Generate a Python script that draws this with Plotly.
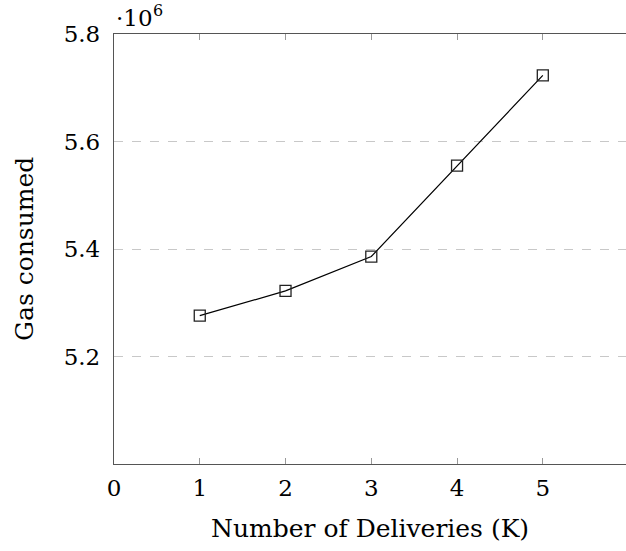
import plotly.graph_objects as go

deliveries = [1, 2, 3, 4, 5]
gas_consumed = [5.276e6, 5.322e6, 5.386e6, 5.555e6, 5.723e6]

x_ticks = [0, 1, 2, 3, 4, 5]
y_ticks = [5.2e6, 5.4e6, 5.6e6, 5.8e6]
y_tick_labels = ["5.2", "5.4", "5.6", "5.8"]

FONT = "DejaVu Serif"
FS = 23
FS_TITLE = 25

fig = go.Figure()
fig.add_trace(go.Scatter(
    x=deliveries, y=gas_consumed, mode="lines+markers",
    line=dict(color="black", width=1.2),
    marker=dict(symbol="square-open", size=11, color="#222", line=dict(width=1.3, color="#222")),
    showlegend=False, cliponaxis=False,
))

fig.update_layout(
    width=626, height=551,
    margin=dict(l=114, r=0, t=34, b=87),
    paper_bgcolor="white", plot_bgcolor="white",
    font=dict(family=FONT, size=FS, color="black"),
    xaxis=dict(
        range=[0, 5.97], tickvals=x_ticks, ticks="inside", ticklen=6, tickcolor="#999",
        tickwidth=1, showgrid=False, zeroline=False, showline=True, linecolor="#555",
        linewidth=1.3, mirror="ticks", ticklabelstandoff=3,
        tickfont=dict(family=FONT, size=FS),
    ),
    yaxis=dict(
        range=[5.0e6, 5.8e6], tickvals=y_ticks, ticktext=y_tick_labels, ticks="",
        showgrid=True, gridcolor="#c8c8c8", griddash="dash", gridwidth=1,
        zeroline=False, showline=True, linecolor="#555", linewidth=1.3,
        ticklabelstandoff=8, tickfont=dict(family=FONT, size=FS),
    ),
    annotations=[
        dict(text="·10", xref="paper", yref="paper", x=0, y=1,
             xanchor="left", yanchor="bottom", showarrow=False, xshift=0, yshift=1,
             font=dict(family=FONT, size=FS)),
        dict(text="6", xref="paper", yref="paper", x=0, y=1,
             xanchor="left", yanchor="middle", showarrow=False, xshift=37, yshift=24,
             font=dict(family=FONT, size=16)),
        dict(text="Number of Deliveries (K)", xref="paper", yref="paper", x=0.5, y=0,
             xanchor="center", yanchor="middle", showarrow=False, yshift=-64,
             font=dict(family=FONT, size=FS_TITLE)),
        dict(text="Gas consumed", xref="paper", yref="paper", x=0, y=0.5,
             xanchor="center", yanchor="middle", showarrow=False, xshift=-90, textangle=-90,
             font=dict(family=FONT, size=FS_TITLE)),
    ],
)

fig.write_html("out.html", config={"displayModeBar": False},
               post_script="document.body.style.margin='0';")
